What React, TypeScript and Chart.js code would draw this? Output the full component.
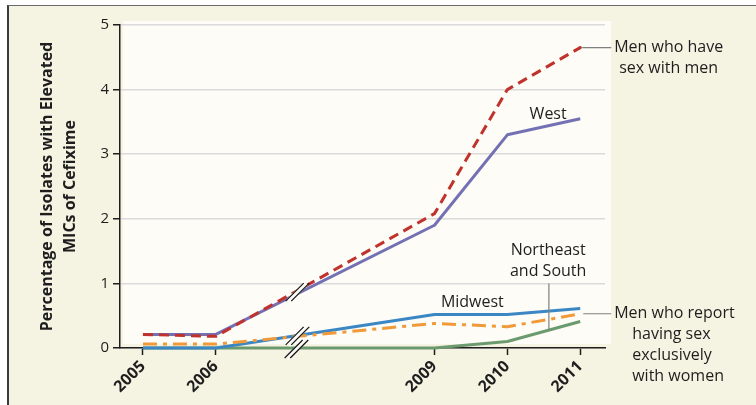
import React, { useEffect, useRef } from "react";
import { Chart, registerables } from "chart.js";

Chart.register(...registerables);

const years = [2005, 2006, 2009, 2010, 2011];
const msm = [0.21, 0.18, 2.08, 4.0, 4.65];
const west = [0.21, 0.21, 1.9, 3.3, 3.55];
const midwest = [0.0, 0.0, 0.52, 0.52, 0.61];
const msw = [0.06, 0.06, 0.38, 0.33, 0.53];
const northeastSouth = [0.0, 0.0, 0.0, 0.1, 0.41];
const yTicks = [0, 1, 2, 3, 4, 5];
const yTitle = ["Percentage of Isolates with Elevated", "MICs of Cefixime"];

const FONT = "'Open Sans', 'Noto Sans', sans-serif";
const INK = "#1e1e1e";
const BREAK_X = 2007.12;

function interp(xs: number[], ys: number[], x: number) {
  for (let i = 0; i < xs.length - 1; i++) {
    if (x >= xs[i] && x <= xs[i + 1]) {
      const t = (x - xs[i]) / (xs[i + 1] - xs[i]);
      return ys[i] + t * (ys[i + 1] - ys[i]);
    }
  }
  return ys[ys.length - 1];
}

const pts = (vals: number[]) => years.map((y, i) => ({ x: y, y: vals[i] }));

const bgPlugin = {
  id: "plotBg",
  beforeDraw(chart: any) {
    const { ctx, chartArea: a } = chart;
    ctx.save();
    ctx.fillStyle = "#fdfcf6";
    ctx.fillRect(a.left + 3, a.top - 4, a.right - a.left + 3, a.bottom - a.top);
    ctx.restore();
  },
};

const annoPlugin = {
  id: "anno",
  afterDatasetsDraw(chart: any) {
    const { ctx } = chart;
    const xs = chart.scales.x;
    const ys = chart.scales.y;
    const X = (v: number) => xs.getPixelForValue(v);
    const Y = (v: number) => ys.getPixelForValue(v);

    // axis break marks
    const slash = (cx: number, cy: number) => {
      const h = 9;
      ctx.save();
      ctx.strokeStyle = "#fdfcf6";
      ctx.lineWidth = 5;
      ctx.beginPath();
      ctx.moveTo(cx - h, cy + h);
      ctx.lineTo(cx + h, cy - h);
      ctx.stroke();
      ctx.strokeStyle = "#111";
      ctx.lineWidth = 1.2;
      for (const o of [-2.8, 2.8]) {
        ctx.beginPath();
        ctx.moveTo(cx - h + o, cy + h);
        ctx.lineTo(cx + h + o, cy - h);
        ctx.stroke();
      }
      ctx.restore();
    };
    const bx = X(BREAK_X);
    slash(bx, (Y(interp(years, msm, BREAK_X)) + Y(interp(years, west, BREAK_X))) / 2);
    slash(bx, (Y(interp(years, midwest, BREAK_X)) + Y(interp(years, msw, BREAK_X))) / 2);
    slash(bx - 1, Y(0) + 1);

    // leader lines
    ctx.save();
    ctx.strokeStyle = "#808080";
    ctx.lineWidth = 1.2;
    const x11 = X(2011);
    ctx.beginPath();
    ctx.moveTo(x11 + 2, Y(msm[4]));
    ctx.lineTo(x11 + 31, Y(msm[4]));
    ctx.moveTo(x11 + 3, Y(msw[4]));
    ctx.lineTo(x11 + 31, Y(msw[4]));
    const nx = 2010.57;
    ctx.moveTo(X(nx), Y(1.0));
    ctx.lineTo(X(nx), Y(interp(years, northeastSouth, nx)));
    ctx.stroke();
    ctx.fillStyle = "#c0322c";
    ctx.beginPath();
    ctx.arc(x11, Y(msm[4]), 1.6, 0, Math.PI * 2);
    ctx.fill();
    ctx.restore();

    // texts
    ctx.save();
    ctx.fillStyle = INK;
    ctx.font = `16px ${FONT}`;
    ctx.textBaseline = "middle";
    ctx.textAlign = "left";
    const ym = Y(msm[4]);
    ctx.fillText("Men who have", x11 + 34, ym);
    ctx.fillText("sex with men", x11 + 39, ym + 20.5);
    const yw = Y(msw[4]);
    ctx.fillText("Men who report", x11 + 34, yw);
    ctx.fillText("having sex", x11 + 52, yw + 21);
    ctx.fillText("exclusively", x11 + 52, yw + 42);
    ctx.fillText("with women", x11 + 52, yw + 63);
    ctx.textAlign = "center";
    ctx.fillText("West", X(2010.56), Y(3.62));
    ctx.fillText("Midwest", X(2009.52), Y(0.7));
    ctx.fillText("Northeast", X(2010.56), Y(1.51));
    ctx.fillText("and South", X(2010.56), Y(1.19));
    ctx.restore();
  },
};

export default function App() {
  const ref = useRef<HTMLCanvasElement | null>(null);

  useEffect(() => {
    if (!ref.current) return;
    const base = {
      pointRadius: 0,
      borderWidth: 3,
      tension: 0,
      fill: false,
      clip: false as any,
      borderJoinStyle: "round" as const,
    };
    const chart = new Chart(ref.current, {
      type: "line",
      data: {
        datasets: [
          { ...base, label: "Men who have sex with men", data: pts(msm), borderColor: "#c0322c", borderDash: [10, 6], borderCapStyle: "butt" },
          { ...base, label: "Men who report having sex exclusively with women", data: pts(msw), borderColor: "#f09a3a", borderDash: [14, 6, 4, 6] },
          { ...base, label: "West", data: pts(west), borderColor: "#7470b4" },
          { ...base, label: "Midwest", data: pts(midwest), borderColor: "#3b87c4" },
          { ...base, label: "Northeast and South", data: pts(northeastSouth), borderColor: "#6b9a6e" },
        ],
      },
      options: {
        animation: false,
        responsive: false,
        layout: { padding: { left: 0, top: 25, right: 151, bottom: 0 } },
        plugins: { legend: { display: false }, tooltip: { enabled: false } },
        scales: {
          x: {
            type: "linear",
            position: "bottom",
            min: 2004.685,
            max: 2011.34,
            afterBuildTicks: (s: any) => {
              s.ticks = years.map((v) => ({ value: v }));
            },
            afterFit: (s: any) => {
              s.height = 57;
            },
            ticks: {
              minRotation: 45,
              maxRotation: 45,
              autoSkip: false,
              padding: 2,
              color: INK,
              font: { family: FONT, size: 16, weight: "bold" },
              callback: (v: any) => String(v),
            },
            grid: {
              drawOnChartArea: false,
              drawTicks: true,
              tickLength: 7,
              tickColor: INK,
              tickWidth: 1.5,
            },
            border: { color: INK, width: 1.5 },
          },
          y: {
            min: 0,
            max: 5,
            afterBuildTicks: (s: any) => {
              s.ticks = yTicks.map((v) => ({ value: v }));
            },
            afterFit: (s: any) => {
              s.width = 120;
            },
            ticks: {
              color: INK,
              padding: 4,
              font: { family: FONT, size: 15 },
              callback: (v: any) => String(v),
            },
            grid: {
              color: "#dadada",
              lineWidth: 1.5,
              drawTicks: true,
              tickLength: 7,
              tickColor: INK,
              tickWidth: 1.5,
            },
            border: { color: INK, width: 1.5 },
            title: {
              display: true,
              text: yTitle,
              color: INK,
              font: { family: FONT, size: 16, weight: "bold", lineHeight: "23px" },
              padding: { top: 35.5, bottom: 0 },
            },
          },
        },
      },
      plugins: [bgPlugin, annoPlugin],
    });
    return () => chart.destroy();
  }, []);

  return (
    <div style={{ position: "fixed", left: 0, top: 0, width: 756, height: 405, overflow: "hidden", background: "#ffffff" }}>
      <div
        style={{
          position: "absolute",
          left: 7,
          top: 5,
          right: 0,
          bottom: 0,
          background: "#f5f3e2",
          borderLeft: "2px solid #3a3a3a",
          borderTop: "1.5px solid #6a6a6a",
        }}
      />
      <canvas ref={ref} width={756} height={405} style={{ position: "absolute", left: 0, top: 0 }} />
    </div>
  );
}
